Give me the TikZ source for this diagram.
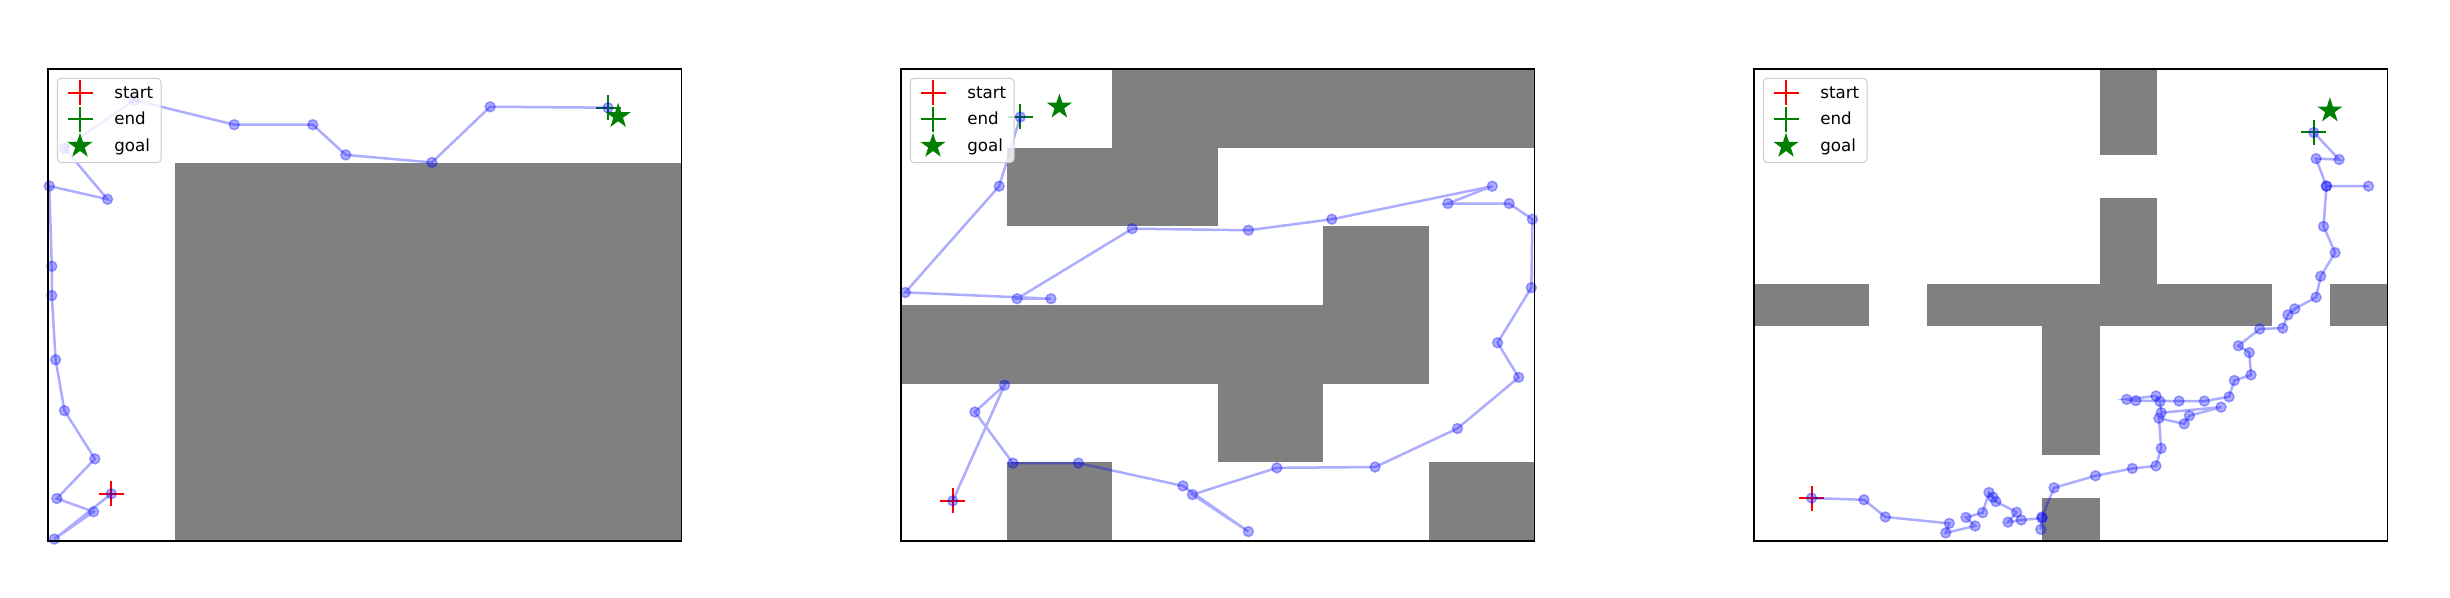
\documentclass[tikz,border=0pt]{standalone}
\usepackage{fontspec}
\setmainfont{DejaVu Sans}
\usepackage{tikz}
\usetikzlibrary{calc,positioning,shapes.geometric}
\definecolor{obstgray}{RGB}{128,128,128}
\definecolor{mplred}{RGB}{255,0,0}
\definecolor{mplgreen}{RGB}{0,128,0}
\definecolor{trajblue}{RGB}{0,0,255}
\definecolor{legendedge}{RGB}{204,204,204}

\tikzset{
  plusmark/.pic={\draw[line width=0.04cm] (-0.25cm,0) -- (0.25cm,0) (0,-0.25cm) -- (0,0.25cm);},
  goalstar/.style={star, star points=5, star point ratio=2.618, fill=mplgreen, inner sep=0pt, minimum size=0.53cm},
  obstacle/.style={fill=obstgray},
  frame/.style={draw=black, line width=0.03cm},
  traj/.style={trajblue, opacity=0.32, line width=0.05cm},
  legtext/.style={anchor=base west, inner sep=0pt, font=\fontsize{9.5}{11}\selectfont},
}

\begin{document}
\begin{tikzpicture}
\useasboundingbox (0,0) rectangle (49,11.96);

\begin{scope}[shift={(0.96,1.14)}, x=2.534cm, y=1.888cm]
\fill[obstacle] (1,0) rectangle (5,4);
\pic[mplred] at (0.5,0.5) {plusmark};
\pic[mplgreen] at (4.42,4.59) {plusmark};
\node[goalstar] (goal1) at (4.5,4.5) {};
\draw[traj] plot[mark=*, mark size=0.1cm, mark options={line width=0.03cm}] coordinates {
(0.5,0.5) (0.05,0.02) (0.36,0.31) (0.07,0.45) (0.37,0.87) (0.13,1.38) (0.06,1.92)
(0.03,2.60) (0.03,2.91) (0.01,3.76) (0.47,3.62) (0.13,4.16) (0.68,4.67) (1.47,4.41)
(2.09,4.41) (2.35,4.09) (3.03,4.01) (3.49,4.60) (4.42,4.59)};
\draw[frame] (0,0) rectangle (5,5);
\end{scope}

\begin{scope}[shift={(18.02,1.14)}, x=2.1117cm, y=1.5733cm]
\fill[obstacle] (2,5) rectangle (6,6);
\fill[obstacle] (1,4) rectangle (3,5);
\fill[obstacle] (4,2) rectangle (5,4);
\fill[obstacle] (0,2) rectangle (5,3);
\fill[obstacle] (3,1) rectangle (4,2);
\fill[obstacle] (1,0) rectangle (2,1);
\fill[obstacle] (5,0) rectangle (6,1);
\pic[mplred] at (0.49,0.51) {plusmark};
\pic[mplgreen] at (1.13,5.39) {plusmark};
\node[goalstar] (goal2) at (1.5,5.52) {};
\draw[traj] plot[mark=*, mark size=0.1cm, mark options={line width=0.03cm}] coordinates {
(0.49,0.51) (0.98,1.98) (0.70,1.64) (1.06,0.99) (1.68,0.99) (2.67,0.70) (3.29,0.12)
(2.76,0.59) (3.56,0.93) (4.49,0.94) (5.27,1.43) (5.85,2.08) (5.65,2.52) (5.97,3.22)
(5.98,4.09) (5.76,4.29) (5.18,4.29) (5.60,4.51) (4.08,4.09) (3.29,3.95) (2.19,3.97)
(1.10,3.08) (1.42,3.08) (0.04,3.16) (0.93,4.51) (1.13,5.39)};
\draw[frame] (0,0) rectangle (6,6);
\end{scope}

\begin{scope}[shift={(35.08,1.14)}, x=1.1518cm, y=0.8582cm]
\fill[obstacle] (6,9) rectangle (7,11);
\fill[obstacle] (6,6) rectangle (7,8);
\fill[obstacle] (3,5) rectangle (9,6);
\fill[obstacle] (0,5) rectangle (2,6);
\fill[obstacle] (10,5) rectangle (11,6);
\fill[obstacle] (5,2) rectangle (6,5);
\fill[obstacle] (5,0) rectangle (6,1);
\pic[mplred] at (1,1) {plusmark};
\pic[mplgreen] at (9.72,9.52) {plusmark};
\node[goalstar] (goal3) at (10,10.03) {};
\draw[traj] plot[mark=*, mark size=0.1cm, mark options={line width=0.03cm}] coordinates {
(1,1) (1.91,0.96) (2.28,0.56) (3.39,0.41) (3.33,0.19) (3.84,0.35) (3.68,0.55)
(3.97,0.66) (4.08,1.13) (4.15,1.02) (4.20,0.92) (4.56,0.67) (4.41,0.44) (4.64,0.49)
(5.00,0.53) (4.98,0.27) (5.00,0.56) (5.21,1.24) (5.93,1.52) (6.57,1.69) (6.98,1.75)
(7.07,2.16) (7.03,2.86) (7.47,2.73) (7.56,2.92) (8.11,3.12) (7.07,2.99) (7.05,3.25)
(6.98,3.38) (6.47,3.30) (6.63,3.27) (7.38,3.26) (7.82,3.26) (8.25,3.36) (8.34,3.74)
(8.63,3.87) (8.60,4.39) (8.41,4.55) (8.78,4.94) (9.18,4.96) (9.27,5.27) (9.39,5.41)
(9.76,5.68) (9.84,6.17) (10.09,6.72) (9.89,7.33) (9.94,8.27) (10.67,8.27) (9.94,8.27)
(9.76,8.91) (10.16,8.89) (9.72,9.52)};
\draw[frame] (0,0) rectangle (11,11);
\end{scope}

\foreach \lx/\k in {0.96/a,18.02/b,35.08/c}{
  \draw[legendedge, line width=0.02cm, rounded corners=0.08cm, fill=white, fill opacity=0.8]
    (\lx+0.186,10.394) rectangle (\lx+2.26,8.706);
  \pic[mplred] at (\lx+0.64,10.106) {plusmark};
  \pic[mplgreen] at (\lx+0.64,9.574) {plusmark};
  \node[goalstar] (lgoal\k) at (\lx+0.64,9.04) {};
  \node[legtext] (lstart\k) at (\lx+1.32,9.996) {start};
  \node[legtext] (lend\k) at (\lx+1.32,9.464) {end};
  \node[legtext] (lgoaltext\k) at (\lx+1.32,8.93) {goal};
}
\end{tikzpicture}
\end{document}
